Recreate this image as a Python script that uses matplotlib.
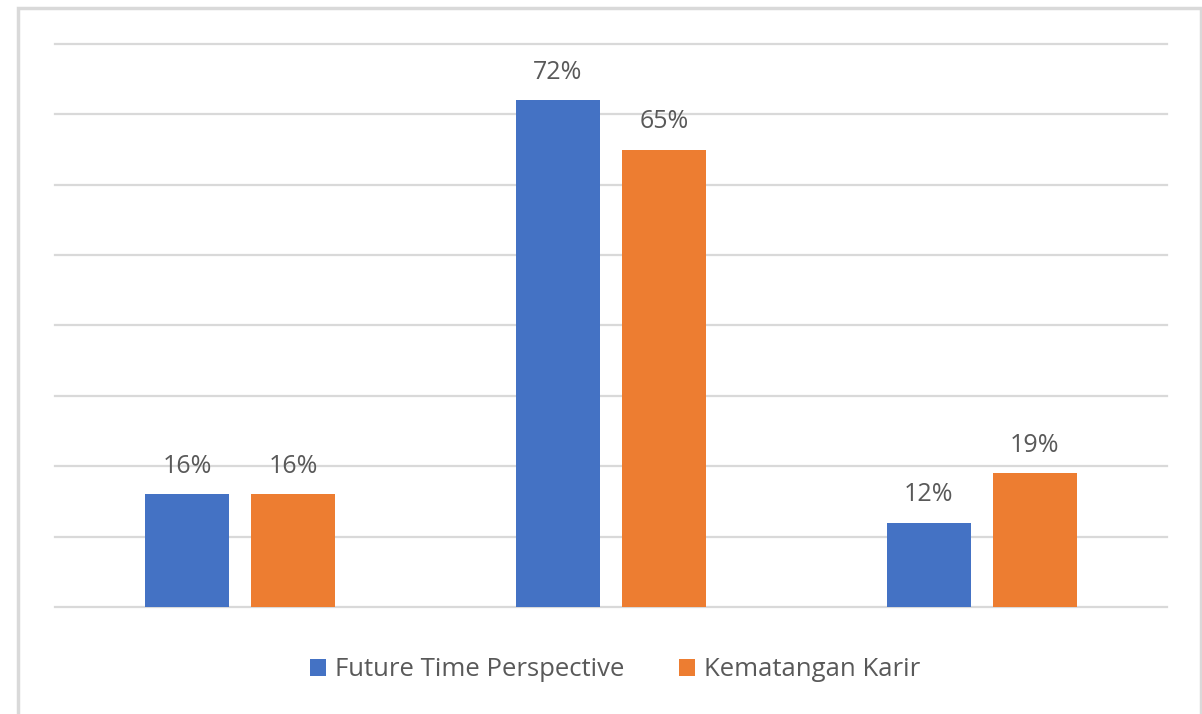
import numpy as np
import matplotlib
matplotlib.use('Agg')
import matplotlib.pyplot as plt
from matplotlib.patches import Rectangle

categories = ['A', 'B', 'C']
series_names = ['Future Time Perspective', 'Kematangan Karir']
fts = [16, 72, 12]
karir = [16, 65, 19]
colors = ['#4472C4', '#ED7D31']

plt.rcParams['font.family'] = ['Open Sans', 'DejaVu Sans']

fig = plt.figure(figsize=(12.02, 7.14), dpi=100)
ax = fig.add_axes([0.0458, 0.1499, 0.9251, 0.7885])

# chart-area border like excel
fig.patches.append(Rectangle((18/1202, -0.05), (1201-18)/1202, 1.05 - 8/714,
                             transform=fig.transFigure, fill=False,
                             edgecolor='#d9d9d9', linewidth=2.5))

x = np.arange(len(categories))
w = 0.227
off = 0.143
b1 = ax.bar(x - off, fts, w, color=colors[0], label=series_names[0], zorder=3)
b2 = ax.bar(x + off, karir, w, color=colors[1], label=series_names[1], zorder=3)

for bars in (b1, b2):
    for r in bars:
        ax.annotate('%d%%' % r.get_height(), (r.get_x() + r.get_width()/2, r.get_height()),
                    xytext=(0, 11), textcoords='offset points', ha='center', va='bottom',
                    fontsize=18, color='#595959')

ax.set_xlim(-0.5, 2.5)
ax.set_ylim(0, 80)
ax.set_yticks(np.arange(0, 81, 10))
ax.yaxis.grid(True, color='#d9d9d9', linewidth=1.6, zorder=0)
for gl in ax.get_ygridlines():
    gl.set_clip_on(False)
ax.set_xticks([])
ax.tick_params(left=False, labelleft=False)
for s in ax.spines.values():
    s.set_visible(False)

fig.legend(loc='center', bbox_to_anchor=(615/1202, 1 - 670/714), ncol=2, frameon=False,
           fontsize=18.5, labelcolor='#595959', handlelength=0.65, handleheight=0.65,
           handletextpad=0.35, columnspacing=2.1)

fig.savefig('out.png', dpi=100)
